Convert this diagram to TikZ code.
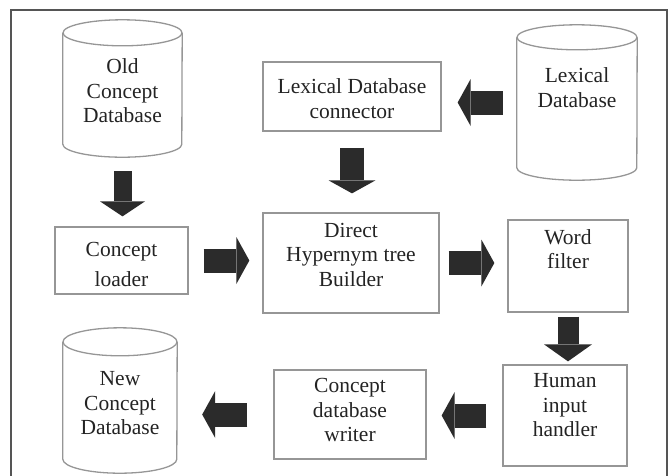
\documentclass[tikz,border=0pt]{standalone}
\usepackage{fontspec}
\setmainfont{Liberation Serif}
\usetikzlibrary{arrows.meta}
\definecolor{cLine}{RGB}{150,150,150}
\definecolor{cText}{RGB}{35,35,35}
\definecolor{cArrow}{RGB}{43,43,43}
\definecolor{cFrame}{RGB}{85,85,85}
\tikzset{
	box/.style     ={rectangle, draw=cLine, line width=1.3pt, inner sep=0pt},
	dbbody/.style  ={rectangle, draw=none, inner sep=0pt},
	txt/.style     ={align=center, text=cText, inner sep=0pt},
	dbline/.style  ={draw=cLine, line width=1.3pt},
	bigarrow/.style={draw=cArrow, line width=24pt, -{Triangle[width=47pt, length=13pt, line width=0pt]}},
}
% cylinder round an empty node: name, x radius, y radius
\newcommand{\dbshape}[3]{%
	\draw[dbline] ([yshift=-#3]#1.north west) -- ([yshift=#3]#1.south west)
		arc[start angle=180, end angle=360, x radius=#2, y radius=#3] -- ([yshift=-#3]#1.north east);
	\draw[dbline] ([yshift=-#3]#1.north) ellipse [x radius=#2, y radius=#3];
}

\begin{document}
\begin{tikzpicture}[x=1pt, y=-1pt, font=\fontsize{21.5pt}{24.5pt}\selectfont]
	\useasboundingbox (0,0) rectangle (672,475);
	\draw[cFrame, line width=2pt] (11,480) -- (11,10) -- (667,10) -- (667,480);

	% databases
	\node[dbbody, minimum width=119pt, minimum height=137pt, label={[txt, yshift=-2.5pt]center:{Old\\Concept\\Database}}] (olddb) at (122.5,88.5) {};
	\node[dbbody, minimum width=120pt, minimum height=155pt, label={[txt, yshift=15pt]center:{Lexical\\Database}}] (lexdb) at (577,102.5) {};
	\node[dbbody, minimum width=114pt, minimum height=145pt, label={[txt, yshift=-3pt]center:{New\\Concept\\Database}}] (newdb) at (120,400.5) {};
	\dbshape{olddb}{59.5pt}{13pt}
	\dbshape{lexdb}{60pt}{12.5pt}
	\dbshape{newdb}{57pt}{14pt}

	% processing blocks
	\node[box, minimum width=178pt, minimum height=69pt, label={[txt, yshift=-2pt]center:{Lexical Database\\connector}}] (conn) at (352,96.5) {};
	\node[box, minimum width=133pt, minimum height=67pt, label={[txt, yshift=-3.5pt]center:{Concept\\[5.5pt]loader}}] (cpt) at (121.5,260.5) {};
	\node[box, minimum width=176pt, minimum height=100pt, label={[txt, yshift=8.5pt]center:{Direct\\Hypernym tree\\Builder}}] (bld) at (351,263) {};
	\node[box, minimum width=120pt, minimum height=92pt, label={[txt, yshift=17pt]center:{Word\\filter}}] (word) at (568,266) {};
	\node[box, minimum width=124pt, minimum height=101pt, label={[txt, yshift=10pt]center:{Human\\input\\handler}}] (human) at (565,415.5) {};
	\node[box, minimum width=152pt, minimum height=89pt, label={[txt, yshift=4.5pt]center:{Concept\\database\\writer}}] (writer) at (350,414.5) {};

	% block arrows
	\draw[bigarrow, line width=18pt, -{Triangle[width=45pt, length=15pt, line width=0pt]}, shorten <=14pt, shorten >=10pt] (olddb.south) -- (olddb.south |- cpt.north);
	\draw[bigarrow, shorten <=16pt, shorten >=19pt] (conn.south) -- (conn.south |- bld.north);
	\draw[bigarrow, shorten <=15pt, shorten >=13pt] (cpt.east) -- (cpt.east -| bld.west);
	\draw[bigarrow, shorten <=14pt, shorten >=16pt] (lexdb.west) -- (lexdb.west -| conn.east);
	\draw[bigarrow, shorten <=9pt, shorten >=13pt] (bld.east) -- (bld.east -| word.west);
	\draw[bigarrow, line width=21pt, -{Triangle[width=48pt, length=17pt, line width=0pt]}, shorten <=4pt, shorten >=3pt] (word.south) -- (word.south |- human.north);
	\draw[bigarrow, shorten <=16pt, shorten >=15pt] (human.west) -- (human.west -| writer.east);
	\draw[bigarrow, shorten <=26pt, shorten >=25pt] (writer.west) -- (writer.west -| newdb.east);
\end{tikzpicture}
\end{document}
